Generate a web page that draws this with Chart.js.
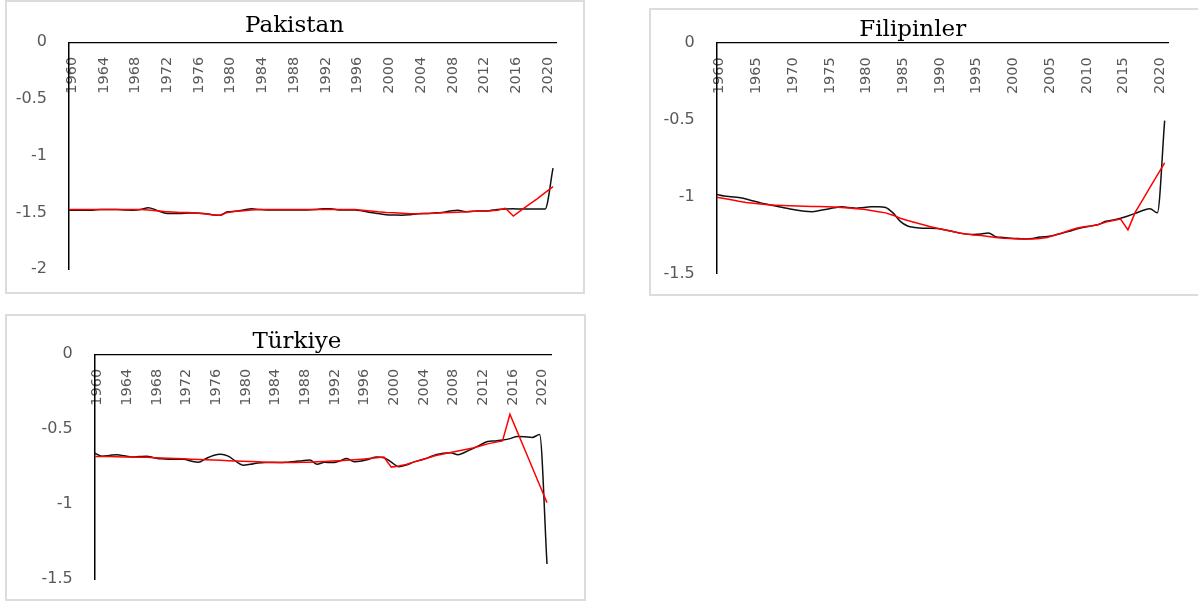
<!DOCTYPE html>
<html>
<head>
<meta charset="utf-8">
<script src="https://cdn.jsdelivr.net/npm/chart.js@4.4.1/dist/chart.umd.min.js"></script>
<style>
  html, body { margin: 0; padding: 0; background: #fff; overflow: hidden; }
  body { width: 1198px; height: 603px; position: relative; }
  .panel { position: absolute; box-sizing: border-box; border: 2px solid #dcdcdc; background: #fff; }
  .panel .wrap { position: absolute; left: 0; top: 0; right: 0; bottom: 0; }
</style>
</head>
<body>
<div class="panel" style="left:5px;top:0px;width:580px;height:294px"><div class="wrap"><canvas id="pakistanChart"></canvas></div></div>
<div class="panel" style="left:649px;top:8px;width:560px;height:288px"><div class="wrap"><canvas id="filipinlerChart"></canvas></div></div>
<div class="panel" style="left:5px;top:314px;width:581px;height:287px"><div class="wrap"><canvas id="turkiyeChart"></canvas></div></div>

<script>
// years on the category axis
const years = [
  1960, 1961, 1962, 1963, 1964, 1965, 1966, 1967, 1968, 1969,
  1970, 1971, 1972, 1973, 1974, 1975, 1976, 1977, 1978, 1979,
  1980, 1981, 1982, 1983, 1984, 1985, 1986, 1987, 1988, 1989,
  1990, 1991, 1992, 1993, 1994, 1995, 1996, 1997, 1998, 1999,
  2000, 2001, 2002, 2003, 2004, 2005, 2006, 2007, 2008, 2009,
  2010, 2011, 2012, 2013, 2014, 2015, 2016, 2017, 2018, 2019,
  2020, 2021,
];

// tick labels
const yearTicksBy4 = [1960, 1964, 1968, 1972, 1976, 1980, 1984, 1988, 1992, 1996, 2000, 2004, 2008, 2012, 2016, 2020];
const yearTicksBy5 = [1960, 1965, 1970, 1975, 1980, 1985, 1990, 1995, 2000, 2005, 2010, 2015, 2020];
const pakistanYTicks = [0, -0.5, -1, -1.5, -2];
const filipinlerYTicks = [0, -0.5, -1, -1.5];
const turkiyeYTicks = [0, -0.5, -1, -1.5];

// Pakistan
const pakistanBlack = [
  -1.48, -1.48, -1.48, -1.48, -1.475, -1.475, -1.475, -1.478, -1.48, -1.475,
  -1.458, -1.48, -1.505, -1.51, -1.51, -1.505, -1.505, -1.51, -1.52, -1.525,
  -1.495, -1.49, -1.478, -1.467, -1.475, -1.478, -1.478, -1.478, -1.478, -1.478,
  -1.478, -1.475, -1.467, -1.468, -1.478, -1.478, -1.478, -1.488, -1.5, -1.51,
  -1.52, -1.523, -1.525, -1.52, -1.512, -1.51, -1.505, -1.5, -1.488, -1.48,
  -1.495, -1.49, -1.488, -1.485, -1.475, -1.47, -1.468, -1.47, -1.47, -1.47,
  -1.47, -1.11,
];
const pakistanRed = [
  -1.475, -1.475, -1.475, -1.475, -1.475, -1.475, -1.475, -1.475, -1.475, -1.475,
  -1.478, -1.485, -1.493, -1.497, -1.5, -1.5, -1.505, -1.512, -1.52, -1.525,
  -1.5, -1.49, -1.485, -1.478, -1.475, -1.475, -1.475, -1.475, -1.475, -1.475,
  -1.475, -1.475, -1.475, -1.475, -1.475, -1.475, -1.475, -1.48, -1.488, -1.495,
  -1.5, -1.503, -1.508, -1.512, -1.512, -1.51, -1.508, -1.503, -1.5, -1.498,
  -1.495, -1.49, -1.488, -1.485, -1.48, -1.464, -1.532, -1.48, -1.43, -1.38,
  -1.325, -1.273,
];

// Filipinler
const filipinlerBlack = [
  -0.985, -0.995, -1.0, -1.005, -1.015, -1.028, -1.04, -1.05, -1.06, -1.07,
  -1.08, -1.088, -1.095, -1.097, -1.09, -1.082, -1.072, -1.065, -1.07, -1.075,
  -1.07, -1.065, -1.065, -1.07, -1.105, -1.16, -1.19, -1.2, -1.205, -1.205,
  -1.207, -1.215, -1.225, -1.235, -1.243, -1.245, -1.242, -1.235, -1.26, -1.265,
  -1.27, -1.272, -1.275, -1.272, -1.262, -1.258, -1.25, -1.238, -1.225, -1.21,
  -1.198, -1.19, -1.18, -1.16, -1.152, -1.14, -1.125, -1.108, -1.09, -1.078,
  -1.105, -0.506,
];
const filipinlerRed = [
  -1.004, -1.012, -1.02, -1.03, -1.038, -1.043, -1.048, -1.052, -1.055, -1.057,
  -1.058, -1.06, -1.062, -1.063, -1.064, -1.065, -1.067, -1.07, -1.074, -1.078,
  -1.082, -1.09, -1.097, -1.105, -1.12, -1.14, -1.155, -1.167, -1.18, -1.193,
  -1.205, -1.215, -1.225, -1.235, -1.242, -1.248, -1.252, -1.258, -1.265, -1.27,
  -1.272, -1.275, -1.275, -1.275, -1.272, -1.265, -1.25, -1.235, -1.22, -1.205,
  -1.195, -1.19, -1.18, -1.165, -1.155, -1.145, -1.215, -1.1, -1.02, -0.94,
  -0.86, -0.78,
];

// Türkiye
const turkiyeBlack = [
  -0.66, -0.68, -0.675, -0.67, -0.678, -0.686, -0.683, -0.68, -0.69, -0.698,
  -0.7, -0.7, -0.7, -0.713, -0.72, -0.696, -0.675, -0.667, -0.68, -0.713,
  -0.74, -0.734, -0.725, -0.723, -0.723, -0.723, -0.72, -0.716, -0.71, -0.706,
  -0.734, -0.72, -0.723, -0.713, -0.696, -0.718, -0.713, -0.7, -0.686, -0.69,
  -0.72, -0.75, -0.74, -0.72, -0.705, -0.69, -0.67, -0.66, -0.658, -0.67,
  -0.652, -0.63, -0.605, -0.582, -0.578, -0.572, -0.563, -0.548, -0.55, -0.555,
  -0.536, -1.4,
];
const turkiyeRed = [
  -0.683, -0.683, -0.683, -0.684, -0.685, -0.686, -0.687, -0.688, -0.69, -0.692,
  -0.694, -0.696, -0.698, -0.7, -0.702, -0.704, -0.706, -0.708, -0.71, -0.712,
  -0.714, -0.716, -0.718, -0.72, -0.721, -0.722, -0.722, -0.722, -0.721, -0.72,
  -0.718, -0.716, -0.713, -0.71, -0.707, -0.704, -0.7, -0.695, -0.69, -0.686,
  -0.753, -0.745, -0.735, -0.72, -0.705, -0.69, -0.675, -0.665, -0.655, -0.645,
  -0.636, -0.625, -0.612, -0.598, -0.588, -0.578, -0.4, -0.518, -0.636, -0.754,
  -0.872, -0.99,
];

Chart.defaults.font.family = "'DejaVu Sans', sans-serif";

// draws the panel title at a fixed spot (the built-in title can't be shifted sideways)
const panelTitle = {
  id: "panelTitle",
  afterDraw(chart, args, opts) {
    const ctx = chart.ctx;
    ctx.save();
    ctx.font = "23px 'DejaVu Serif', serif";
    ctx.fillStyle = "#000";
    ctx.textAlign = "center";
    ctx.textBaseline = "alphabetic";
    ctx.fillText(opts.text, opts.x, opts.y);
    ctx.restore();
  },
};

function toPoints(values) {
  return values.map((v, i) => ({ x: years[i], y: v }));
}

function renderPanel(canvasId, opts) {
  const ctx = document.getElementById(canvasId).getContext("2d");
  return new Chart(ctx, {
    type: "line",
    data: {
      datasets: [
        {
          label: "red",
          data: toPoints(opts.red),
          borderColor: "#ff0000",
          borderWidth: 1.5,
          pointRadius: 0,
          tension: 0,
        },
        {
          label: "black",
          data: toPoints(opts.black),
          borderColor: "#111111",
          borderWidth: 1.5,
          pointRadius: 0,
          cubicInterpolationMode: "monotone",
        },
      ],
    },
    options: {
      responsive: true,
      maintainAspectRatio: false,
      animation: false,
      layout: { padding: opts.padding },
      plugins: {
        legend: { display: false },
        tooltip: { enabled: false },
        title: { display: false },
        panelTitle: { text: opts.title, x: opts.titleX, y: opts.titleY },
      },
      scales: {
        x: {
          type: "linear",
          position: { y: 0 },
          min: years[0],
          max: opts.xMax,
          grid: { display: false, drawTicks: true, tickLength: 14.5 },
          border: { display: true, color: "#000", width: 1.3 },
          afterBuildTicks: (scale) => {
            scale.ticks = opts.xTicks.map((v) => ({ value: v }));
          },
          ticks: {
            autoSkip: false,
            minRotation: 90,
            maxRotation: 90,
            padding: 0,
            labelOffset: 3,
            color: "#595959",
            font: { size: 14.5 },
            callback: (v) => String(v),
          },
        },
        y: {
          min: opts.yTicks[opts.yTicks.length - 1],
          max: opts.yTicks[0],
          grid: { display: false, drawTicks: true, tickLength: 22 },
          border: { display: true, color: "#000", width: 1.5 },
          afterBuildTicks: (scale) => {
            scale.ticks = opts.yTicks.map((v) => ({ value: v }));
          },
          afterFit: (scale) => {
            scale.width = opts.yWidth;
          },
          ticks: {
            padding: 0,
            color: "#595959",
            font: { size: 16 },
            callback: (v) => String(v),
          },
        },
      },
    },
    plugins: [panelTitle],
  });
}

renderPanel("pakistanChart", {
  title: "Pakistan",
  black: pakistanBlack,
  red: pakistanRed,
  xTicks: yearTicksBy4,
  yTicks: pakistanYTicks,
  xMax: 2021.45,
  yWidth: 62,
  padding: { left: 0, right: 26.4, top: 40.3, bottom: 22.9 },
  titleX: 287.5,
  titleY: 29.7,
});

renderPanel("filipinlerChart", {
  title: "Filipinler",
  black: filipinlerBlack,
  red: filipinlerRed,
  xTicks: yearTicksBy5,
  yTicks: filipinlerYTicks,
  xMax: 2021.55,
  yWidth: 65.7,
  padding: { left: 0, right: 38.3, top: 32.7, bottom: 20.3 },
  titleX: 261.7,
  titleY: 26,
});

renderPanel("turkiyeChart", {
  title: "Türkiye",
  black: turkiyeBlack,
  red: turkiyeRed,
  xTicks: yearTicksBy4,
  yTicks: turkiyeYTicks,
  xMax: 2021.54,
  yWidth: 87.7,
  padding: { left: 0, right: 33, top: 38.3, bottom: 20 },
  titleX: 289.9,
  titleY: 31.7,
});
</script>
</body>
</html>
